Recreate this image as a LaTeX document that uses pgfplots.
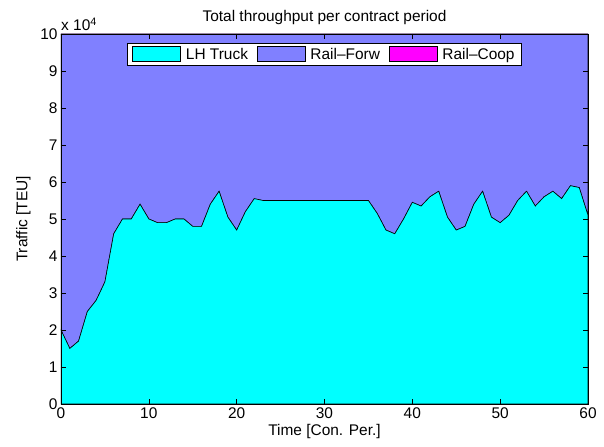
\documentclass[border=0pt]{standalone}
\usepackage{pgfplots}
\pgfplotsset{compat=1.18}
\usepackage{pgfplotstable}
\usepackage{fontspec}
\setmainfont{Liberation Sans}

\definecolor{lhtruck}{RGB}{0,255,255}
\definecolor{railforw}{RGB}{128,128,255}
\definecolor{railcoop}{RGB}{255,0,255}

% traffic per contract period (TEU); rf fills the rest up to 1e5
\pgfplotstableread{
x  lh     rf     rc
0  20000  80000  0
1  15000  85000  0
2  17000  83000  0
3  25000  75000  0
4  28000  72000  0
5  33000  67000  0
6  46000  54000  0
7  50000  50000  0
8  50000  50000  0
9  54000  46000  0
10 50000  50000  0
11 49000  51000  0
12 49000  51000  0
13 50000  50000  0
14 50000  50000  0
15 48000  52000  0
16 48000  52000  0
17 54000  46000  0
18 57500  42500  0
19 50500  49500  0
20 47000  53000  0
21 52000  48000  0
22 55500  44500  0
23 55000  45000  0
24 55000  45000  0
25 55000  45000  0
26 55000  45000  0
27 55000  45000  0
28 55000  45000  0
29 55000  45000  0
30 55000  45000  0
31 55000  45000  0
32 55000  45000  0
33 55000  45000  0
34 55000  45000  0
35 55000  45000  0
36 51500  48500  0
37 47000  53000  0
38 46000  54000  0
39 50000  50000  0
40 54500  45500  0
41 53500  46500  0
42 56000  44000  0
43 57500  42500  0
44 50500  49500  0
45 47000  53000  0
46 48000  52000  0
47 54000  46000  0
48 57500  42500  0
49 50500  49500  0
50 49000  51000  0
51 51000  49000  0
52 55000  45000  0
53 57500  42500  0
54 53500  46500  0
55 56000  44000  0
56 57500  42500  0
57 55500  44500  0
58 59000  41000  0
59 58500  41500  0
60 51000  49000  0
}\traffic

\begin{document}
\begin{tikzpicture}
\begin{axis}[
    name=ax,
    scale only axis,
    width=527bp, height=370bp,
    xmin=0, xmax=60, ymin=0, ymax=100000,
    xtick={0,10,...,60},
    ytick={0,10000,...,100000},
    yticklabels={0,1,2,3,4,5,6,7,8,9,10},
    scaled y ticks=false,
    tick align=inside,
    major tick length=5bp,
    tick style={black, line width=0.5pt},
    axis line style={black, line width=0.6pt},
    axis on top,
    stack plots=y,
    font=\fontsize{15.5}{18}\selectfont,
    /pgf/number format/assume math mode=true,
    title={Total throughput per contract period},
    xlabel={Time [Con. Per.]},
    xlabel style={yshift=1bp},
    ylabel={Traffic [TEU]},
    ylabel style={yshift=3bp},
    legend columns=3,
    legend style={at={(0.5,0.975)}, anchor=north, draw=black,
        line width=0.6pt, inner xsep=5bp, inner ysep=2bp,
        /tikz/every odd column/.append style={column sep=3bp},
        /tikz/every even column/.append style={column sep=7bp}},
    legend image code/.code={
        \draw[#1, draw=black, line width=0.5pt] (0bp,-6bp) rectangle (48bp,9bp);},
]
\addplot[fill=lhtruck, draw=black, line width=0.6pt] table[x=x, y=lh] {\traffic} \closedcycle;
\addlegendentry{LH Truck}
\addplot[fill=railforw, draw=black, line width=0.6pt] table[x=x, y=rf] {\traffic} \closedcycle;
\addlegendentry{Rail--Forw}
\addplot[fill=railcoop, draw=black, line width=0.6pt] table[x=x, y=rc] {\traffic} \closedcycle;
\addlegendentry{Rail--Coop}
\end{axis}
\node[anchor=south west, font=\fontsize{15.5}{18}\selectfont, inner sep=1bp]
    at ([xshift=-1bp, yshift=2bp]ax.north west) {x 10\textsuperscript{4}};
\path ([xshift=-61bp, yshift=-43bp]ax.south west)
    rectangle ([xshift=16bp, yshift=34bp]ax.north east);
\end{tikzpicture}
\end{document}
